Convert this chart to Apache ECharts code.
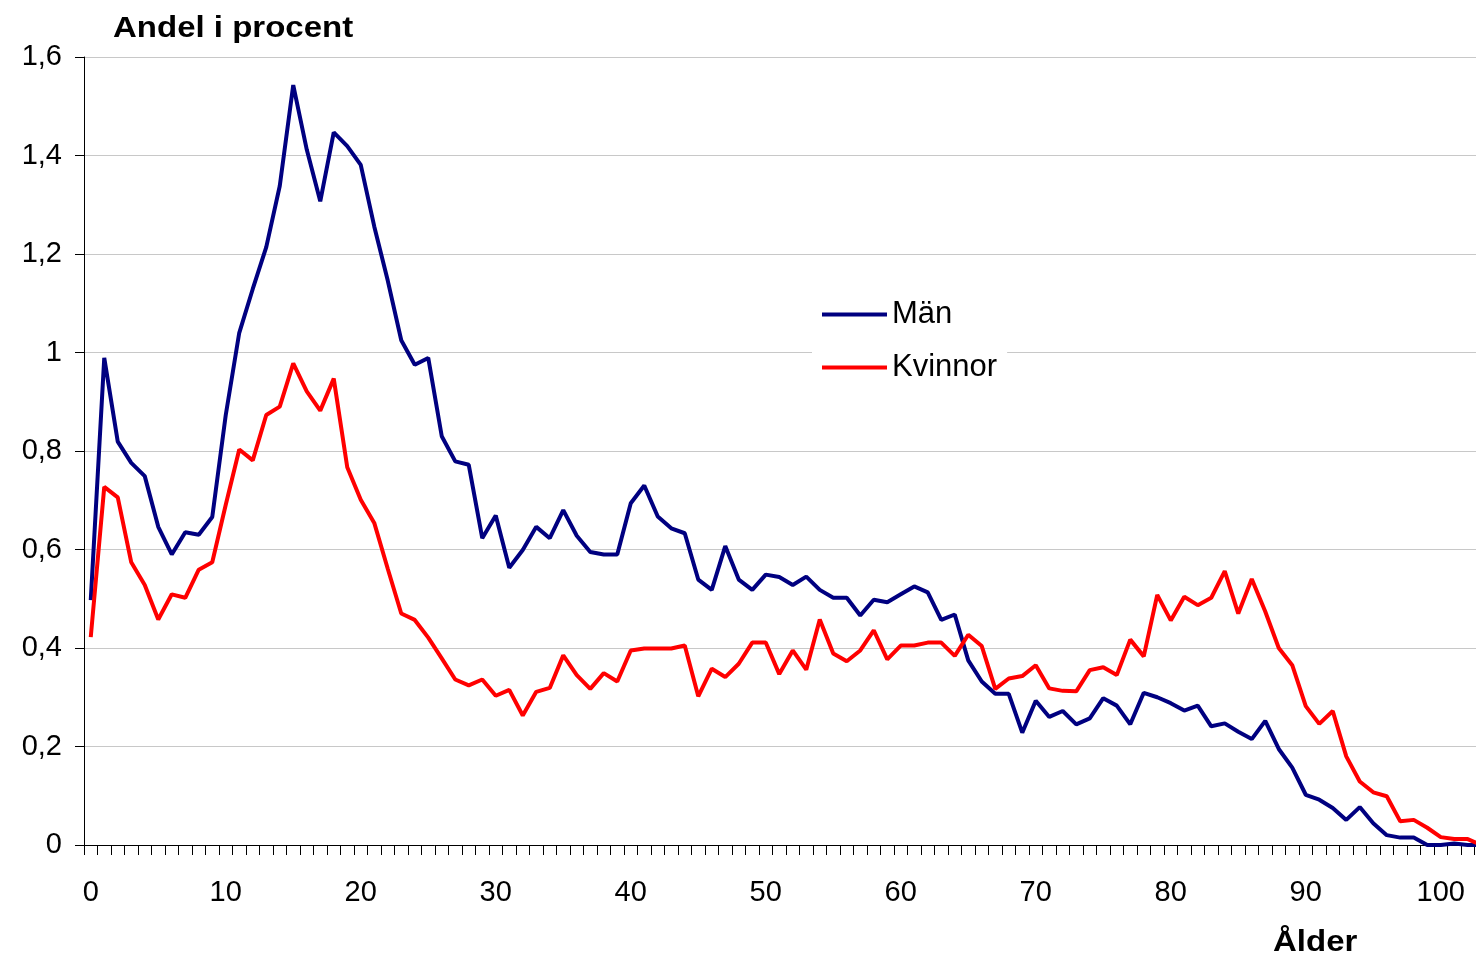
<!DOCTYPE html>
<html>
	<head>
		<meta charset="UTF-8">
		<title>Andel i procent</title>
		<style>
			html, body {
				margin: 0;
				padding: 0;
				overflow: hidden;
				background: #fff;
			}
			#main {
				width: 1500px;
				height: 957px;
			}
		</style>
	</head>
	<script src="https://cdn.jsdelivr.net/npm/echarts@6/dist/echarts.min.js"></script>
	<body>
		<div id="main"></div>
	</body>
	<script>
		// ålder 0-103 (103 ligger precis utanför bilden)
		var ages = [0, 1, 2, 3, 4, 5, 6, 7, 8, 9, 10, 11, 12, 13, 14, 15, 16, 17, 18, 19,
			20, 21, 22, 23, 24, 25, 26, 27, 28, 29, 30, 31, 32, 33, 34, 35, 36, 37, 38, 39,
			40, 41, 42, 43, 44, 45, 46, 47, 48, 49, 50, 51, 52, 53, 54, 55, 56, 57, 58, 59,
			60, 61, 62, 63, 64, 65, 66, 67, 68, 69, 70, 71, 72, 73, 74, 75, 76, 77, 78, 79,
			80, 81, 82, 83, 84, 85, 86, 87, 88, 89, 90, 91, 92, 93, 94, 95, 96, 97, 98, 99,
			100, 101, 102, 103]

		var man = [0.497, 0.989, 0.819, 0.776, 0.749, 0.646, 0.590, 0.635, 0.630, 0.666,
			0.873, 1.040, 1.129, 1.214, 1.338, 1.543, 1.412, 1.307, 1.447, 1.419,
			1.381, 1.256, 1.146, 1.025, 0.975, 0.989, 0.830, 0.779, 0.772, 0.623,
			0.669, 0.563, 0.599, 0.646, 0.623, 0.680, 0.628, 0.595, 0.590, 0.590,
			0.694, 0.730, 0.667, 0.643, 0.633, 0.539, 0.518, 0.607, 0.539, 0.518,
			0.549, 0.544, 0.528, 0.545, 0.518, 0.502, 0.502, 0.466, 0.498, 0.493,
			0.509, 0.525, 0.513, 0.457, 0.468, 0.375, 0.332, 0.307, 0.307, 0.228,
			0.293, 0.260, 0.272, 0.245, 0.257, 0.298, 0.283, 0.245, 0.309, 0.300,
			0.288, 0.273, 0.283, 0.241, 0.247, 0.230, 0.215, 0.252, 0.195, 0.157,
			0.102, 0.092, 0.075, 0.051, 0.077, 0.044, 0.020, 0.015, 0.015, 0.000,
			0.000, 0.003, 0.000, 0.000]

		var kvinnor = [0.422, 0.727, 0.706, 0.574, 0.528, 0.458, 0.509, 0.502, 0.559, 0.574,
			0.691, 0.803, 0.781, 0.873, 0.890, 0.978, 0.921, 0.882, 0.947, 0.767,
			0.701, 0.654, 0.561, 0.470, 0.457, 0.421, 0.379, 0.336, 0.324, 0.336,
			0.303, 0.315, 0.263, 0.311, 0.319, 0.385, 0.345, 0.317, 0.349, 0.332,
			0.395, 0.399, 0.399, 0.399, 0.405, 0.302, 0.358, 0.341, 0.368, 0.411,
			0.411, 0.347, 0.395, 0.356, 0.458, 0.389, 0.373, 0.395, 0.436, 0.377,
			0.405, 0.405, 0.411, 0.411, 0.384, 0.427, 0.404, 0.317, 0.338, 0.343,
			0.365, 0.318, 0.313, 0.312, 0.355, 0.361, 0.345, 0.417, 0.383, 0.508,
			0.456, 0.504, 0.487, 0.502, 0.556, 0.470, 0.540, 0.474, 0.400, 0.365,
			0.282, 0.246, 0.272, 0.180, 0.129, 0.107, 0.099, 0.048, 0.051, 0.035,
			0.016, 0.012, 0.012, 0.000]

		var font = 'Liberation Sans, Arial, sans-serif'

		var myChart = echarts.init(document.getElementById('main'))

		var option = {
			animation: false,
			backgroundColor: '#fff',
			grid: {
				left: 84,
				top: 57,
				bottom: 112,
				width: 1404
			},
			legend: {
				orient: 'vertical',
				left: 812,
				top: 289,
				padding: [10, 10, 10, 10],
				backgroundColor: '#fff',
				itemWidth: 65,
				itemHeight: 4,
				itemGap: 22,
				textStyle: {
					fontFamily: font,
					fontSize: 31,
					color: '#000'
				},
				data: [
					{ name: 'Män', icon: 'rect' },
					{ name: 'Kvinnor', icon: 'rect' }
				]
			},
			graphic: [
				{
					// rubriken är lite bredare i originalet
					type: 'text',
					x: 113,
					y: 14,
					scaleX: 1.1,
					style: {
						text: 'Andel i procent',
						font: 'bold 30px ' + font,
						fill: '#000'
					}
				},
				{
					type: 'text',
					x: 1273,
					y: 928,
					scaleX: 1.1,
					style: {
						text: 'Ålder',
						font: 'bold 30px ' + font,
						fill: '#000'
					}
				}
			],
			xAxis: {
				type: 'category',
				data: ages,
				boundaryGap: true,
				axisLine: { lineStyle: { color: '#000', width: 1 } },
				axisTick: {
					show: true,
					interval: 0,
					length: 10,
					lineStyle: { color: '#000' }
				},
				axisLabel: {
					interval: 9,
					margin: 33,
					fontFamily: font,
					fontSize: 29,
					color: '#000'
				},
				splitLine: { show: false }
			},
			yAxis: {
				type: 'value',
				min: 0,
				max: 1.6,
				interval: 0.2,
				axisLine: { show: true, lineStyle: { color: '#000', width: 1 } },
				axisTick: { show: true, length: 9, lineStyle: { color: '#000' } },
				axisLabel: {
					margin: 22,
					fontFamily: font,
					fontSize: 29,
					color: '#000',
					formatter: function (v) {
						return String(Math.round(v * 10) / 10).replace('.', ',')
					}
				},
				splitLine: { show: true, lineStyle: { color: '#c8c8c8', width: 1 } }
			},
			series: [
				{
					name: 'Män',
					type: 'line',
					data: man,
					symbol: 'none',
					color: '#000080',
					lineStyle: { width: 4, color: '#000080' }
				},
				{
					name: 'Kvinnor',
					type: 'line',
					data: kvinnor,
					symbol: 'none',
					color: '#ff0000',
					lineStyle: { width: 4, color: '#ff0000' }
				}
			]
		}

		myChart.setOption(option)
	</script>
</html>
